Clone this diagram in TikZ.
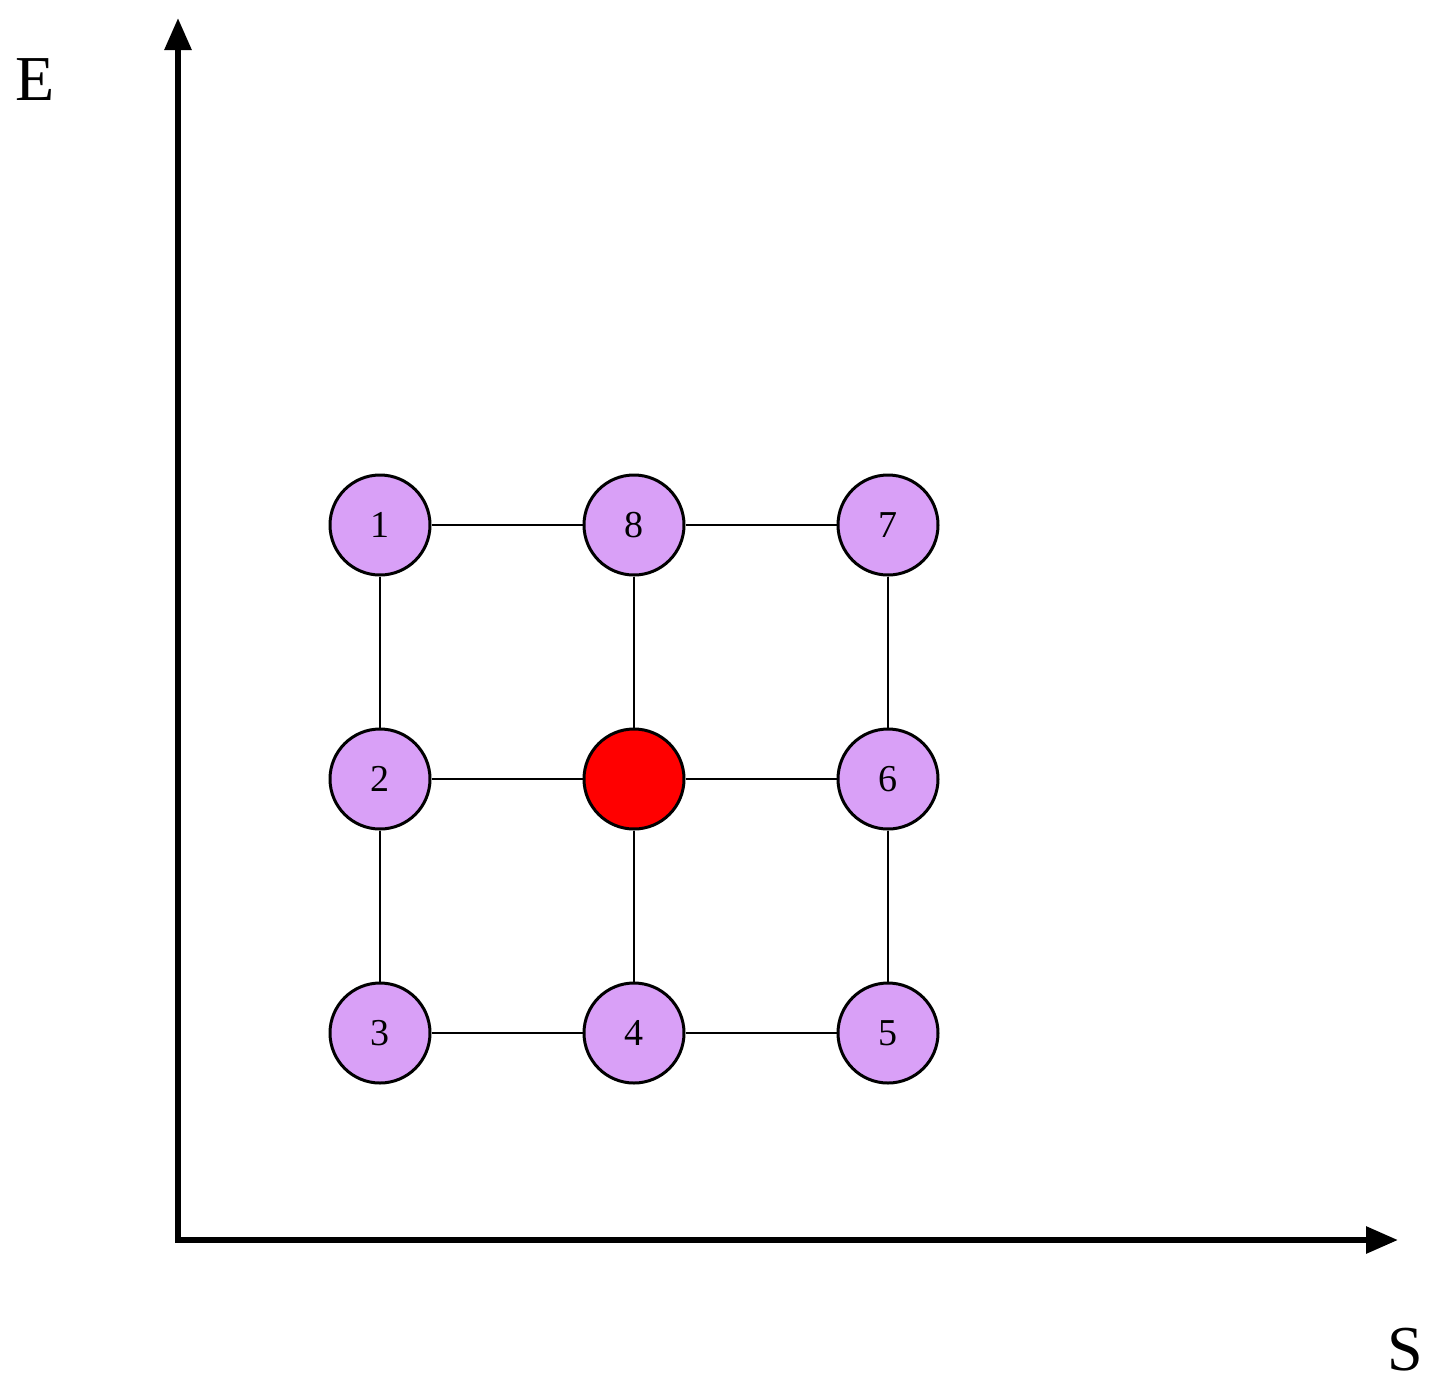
\documentclass[tikz,border=0pt]{standalone}
\usepackage{fontspec}
\setmainfont{Liberation Serif}
\usetikzlibrary{arrows.meta}
\definecolor{lav}{HTML}{D9A0F7}
\begin{document}
\begin{tikzpicture}[x=0.5pt,y=-0.5pt,
  st/.style={circle,draw=black,line width=1.5pt,fill=lav,minimum size=50pt,inner sep=0pt,font=\fontsize{19}{19}\selectfont},
  red/.style={st,fill=red},
  ed/.style={line width=1.2pt},
  ax/.style={line width=3pt,-{Triangle[length=16pt,width=13pt]}}]
\useasboundingbox (0,0) rectangle (1430,1393);
\coordinate (O) at (178,1240);
\coordinate (Y) at (178,18);
\coordinate (X) at (1398,1240);
\draw[ax] (O) -- (Y);
\draw[ax] (175,1240) -- (X);
\node[font=\fontsize{32}{32}\selectfont] (E) at (35,80) {E};
\node[font=\fontsize{32}{32}\selectfont] (S) at (1405,1350) {S};
\node[st] (n1) at (380,525) {1};
\node[st] (n8) at (634,525) {8};
\node[st] (n7) at (888,525) {7};
\node[st] (n2) at (380,779) {2};
\node[red] (c) at (634,779) {};
\node[st] (n6) at (888,779) {6};
\node[st] (n3) at (380,1033) {3};
\node[st] (n4) at (634,1033) {4};
\node[st] (n5) at (888,1033) {5};
\draw[ed] (n1)--(n8) (n8)--(n7) (n2)--(c) (c)--(n6) (n3)--(n4) (n4)--(n5)
  (n1)--(n2) (n2)--(n3) (n8)--(c) (c)--(n4) (n7)--(n6) (n6)--(n5);
\end{tikzpicture}
\end{document}
